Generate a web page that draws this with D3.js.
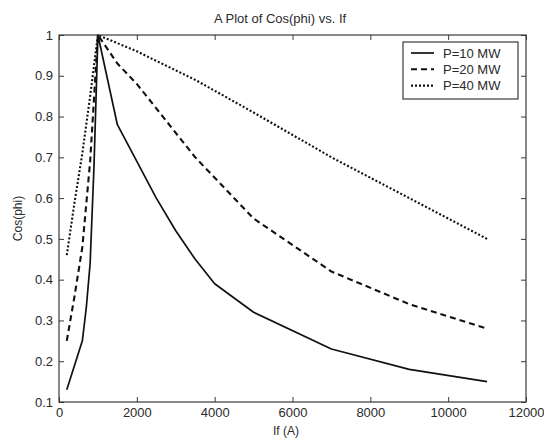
<!DOCTYPE html>
<html>
<head>
<meta charset="utf-8">
<script src="https://cdn.jsdelivr.net/npm/d3@7"></script>
<style>
  body { margin: 0; background: #fff; }
  svg { display: block; font-family: "Liberation Sans", Arial, sans-serif; }
</style>
</head>
<body>
<svg id="chart" width="544" height="440"></svg>
<script>
// ---- data ----
const seriesNames = ["P=10 MW", "P=20 MW", "P=40 MW"];
const ifP10  = [200, 600, 700, 800, 900, 1000, 1500, 2000, 2500, 3000, 3500, 4000, 5000, 7000, 9000, 11000];
const cosP10 = [0.13, 0.25, 0.33, 0.44, 0.68, 1.0, 0.78, 0.69, 0.60, 0.52, 0.45, 0.39, 0.32, 0.23, 0.18, 0.15];
const ifP20  = [200, 400, 600, 800, 1000, 1500, 2000, 3500, 5000, 7000, 9000, 11000];
const cosP20 = [0.25, 0.36, 0.48, 0.69, 1.0, 0.93, 0.88, 0.70, 0.55, 0.42, 0.34, 0.28];
const ifP40  = [200, 400, 600, 800, 1000, 2000, 3500, 5000, 7000, 9000, 11000];
const cosP40 = [0.46, 0.59, 0.71, 0.85, 1.0, 0.96, 0.89, 0.81, 0.70, 0.60, 0.50];
const xTicks = [0, 2000, 4000, 6000, 8000, 10000, 12000];
const yTicks = [0.1, 0.2, 0.3, 0.4, 0.5, 0.6, 0.7, 0.8, 0.9, 1];
const titleText = "A Plot of Cos(phi) vs. If";
const xLabel = "If (A)";
const yLabel = "Cos(phi)";

const seriesX = [ifP10, ifP20, ifP40];
const seriesY = [cosP10, cosP20, cosP40];
const dashes = [null, "6,4", "2,2"];

// ---- layout ----
const L = 59, R = 526, T = 35, B = 402;
const svg = d3.select("#chart");
const x = d3.scaleLinear().domain([0, 12000]).range([L, R]);
const y = d3.scaleLinear().domain([0.1, 1]).range([B, T]);
const axisColor = "#3a3a3a";
const textColor = "#2a2a2a";

// frame
svg.append("rect").attr("x", L).attr("y", T).attr("width", R - L).attr("height", B - T)
  .attr("fill", "none").attr("stroke", axisColor).attr("stroke-width", 1.2);

function styleAxis(g, showText) {
  g.select(".domain").remove();
  g.selectAll(".tick line").attr("stroke", axisColor).attr("stroke-width", 1);
  g.selectAll(".tick text").attr("fill", textColor).style("font-size", "13px")
    .style("display", showText ? null : "none");
}

svg.append("g").attr("transform", `translate(0,${B})`)
  .call(d3.axisBottom(x).tickValues(xTicks).tickFormat(d3.format("d")).tickSizeInner(-5).tickPadding(6))
  .call(g => styleAxis(g, true));
svg.append("g").attr("transform", `translate(0,${T})`)
  .call(d3.axisTop(x).tickValues(xTicks).tickSizeInner(-5))
  .call(g => styleAxis(g, false));
svg.append("g").attr("transform", `translate(${L},0)`)
  .call(d3.axisLeft(y).tickValues(yTicks).tickFormat(d => d3.format("")(+d.toFixed(1))).tickSizeInner(-5).tickPadding(6))
  .call(g => styleAxis(g, true));
svg.append("g").attr("transform", `translate(${R},0)`)
  .call(d3.axisRight(y).tickValues(yTicks).tickSizeInner(-5))
  .call(g => styleAxis(g, false));

// lines
const line = d3.line().x(d => x(d[0])).y(d => y(d[1]));
seriesX.forEach((xs, i) => {
  const pts = xs.map((v, j) => [v, seriesY[i][j]]);
  svg.append("path").datum(pts).attr("d", line)
    .attr("fill", "none").attr("stroke", "#111")
    .attr("stroke-width", i === 0 ? 1.7 : 2.1)
    .attr("stroke-dasharray", dashes[i])
    .attr("stroke-linejoin", "round");
});

// titles
svg.append("text").attr("x", 280).attr("y", 23).attr("text-anchor", "middle")
  .attr("fill", textColor).style("font-size", "13px").text(titleText);
svg.append("text").attr("x", 286).attr("y", 435).attr("text-anchor", "middle")
  .attr("fill", textColor).style("font-size", "12px").text(xLabel);
svg.append("text").attr("transform", `translate(22,${(T + B) / 2}) rotate(-90)`)
  .attr("text-anchor", "middle").attr("fill", textColor).style("font-size", "12px").text(yLabel);

// legend
const lg = svg.append("g");
lg.append("rect").attr("x", 403).attr("y", 42).attr("width", 115).attr("height", 57)
  .attr("fill", "#fff").attr("stroke", axisColor).attr("stroke-width", 1.2);
seriesNames.forEach((name, i) => {
  const yy = 53 + i * 16.3;
  lg.append("line").attr("x1", 411).attr("x2", 434).attr("y1", yy).attr("y2", yy)
    .attr("stroke", "#111").attr("stroke-width", i === 0 ? 1.7 : 2.1)
    .attr("stroke-dasharray", dashes[i]);
  lg.append("text").attr("x", 443).attr("y", yy + 4.5).attr("fill", textColor)
    .style("font-size", "13px").text(name);
});
</script>
</body>
</html>
